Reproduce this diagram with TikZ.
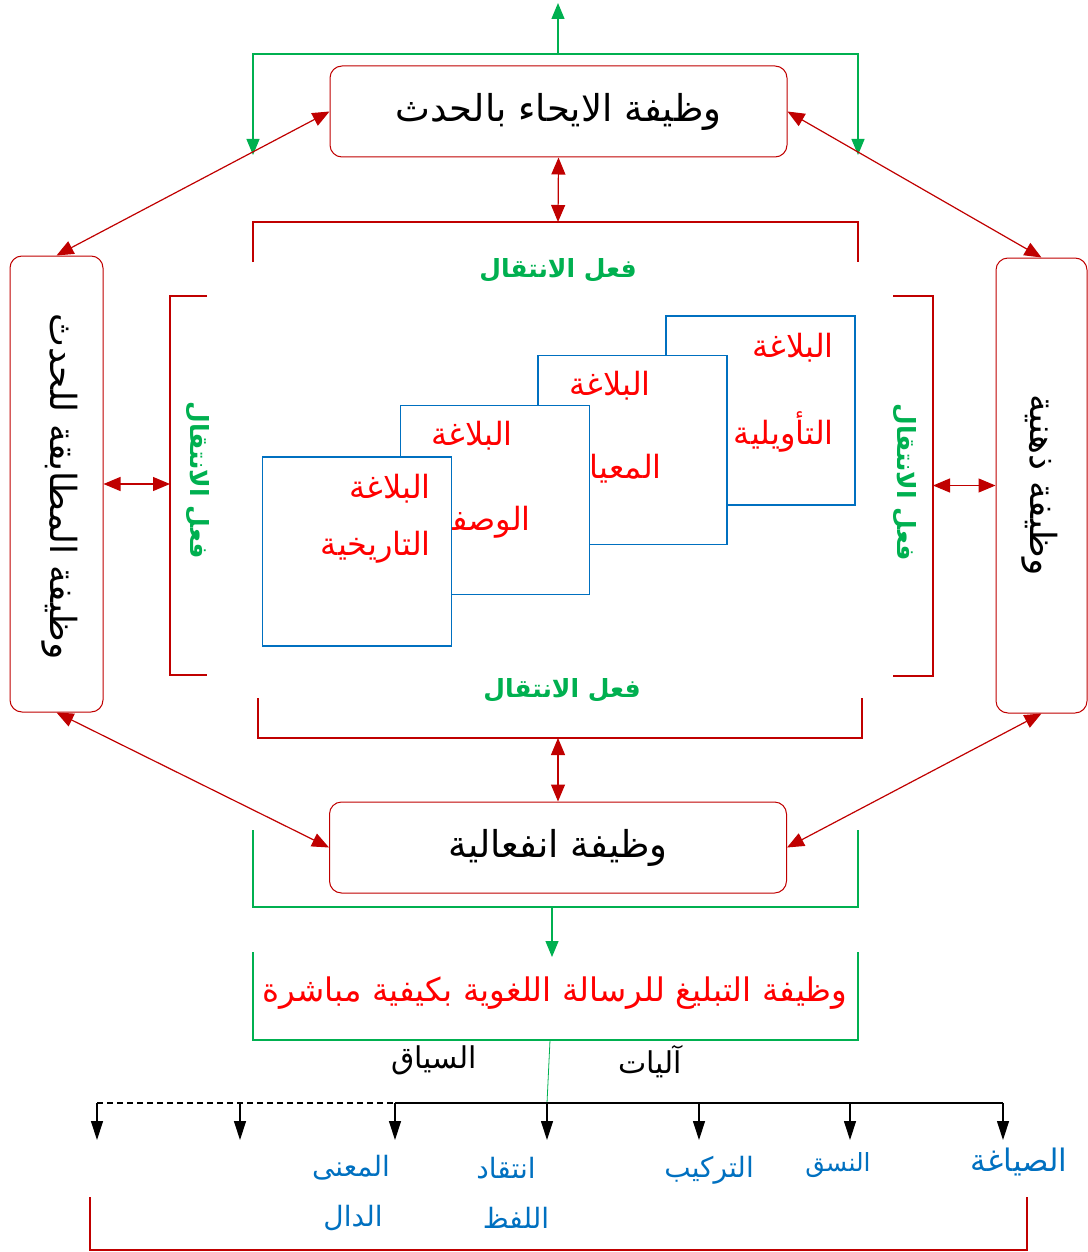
\documentclass[tikz,border=0pt]{standalone}
\usepackage{fontspec}
\usetikzlibrary{arrows.meta,positioning}
\TeXXeTstate=1
\newfontfamily\arabicfont[Script=Arabic]{DejaVu Sans}
\newcommand{\artxt}[1]{{\arabicfont\beginR #1\endR}}
\definecolor{darkred}{RGB}{192,0,0}
\definecolor{grn}{RGB}{0,176,80}
\definecolor{blu}{RGB}{0,112,192}
\tikzset{
 funcbox/.style={draw=darkred,line width=1pt,rounded corners=12pt,fill=white,inner sep=0pt,
   minimum width=457pt,minimum height=91pt,font=\fontsize{37}{40}\selectfont},
 sidebox/.style={draw=darkred,line width=1pt,rounded corners=12pt,fill=white,inner sep=0pt,
   minimum width=93pt,minimum height=456pt},
 sidetxt/.style={rotate=-90,inner sep=0pt,font=\fontsize{36}{40}\selectfont},
 bluesq/.style={draw=blu,line width=1.5pt,fill=white,minimum width=189pt,minimum height=189pt,inner sep=0pt},
 redtxt/.style={text=red,anchor=east,inner sep=0pt,font=\fontsize{32}{36}\selectfont},
 acttxt/.style={text=grn,inner sep=0pt,font=\bfseries\fontsize{25}{28}\selectfont},
 bluetxt/.style={text=blu,inner sep=0pt,font=\fontsize{28}{32}\selectfont},
 blktxt/.style={inner sep=0pt,font=\fontsize{30}{34}\selectfont},
 redline/.style={darkred,line width=1.2pt},
 grnline/.style={grn,line width=1.2pt},
 redarr/.style={darkred,line width=1.2pt,{Triangle[length=17pt,width=14pt]}-{Triangle[length=17pt,width=14pt]}},
 grnarr/.style={grn,line width=1.2pt,-{Triangle[length=16pt,width=13pt]}},
 blkarr/.style={black,line width=1.2pt,-{Triangle[length=19pt,width=12pt]}}
}
\begin{document}
\begin{tikzpicture}[x=1pt,y=-1pt]
\useasboundingbox (0,0) rectangle (1087,1252);
% main boxes
\node[funcbox] (ihaa) at (558.5,111.5) {\artxt{وظيفة الايحاء بالحدث}};
\node[funcbox] (infi) at (558,847.5) {\artxt{وظيفة انفعالية}};
\node[sidebox] (mutab) at (56.5,484) {};
\node[sidetxt] (mutabt) at (60,487) {\artxt{وظيفة المطابقة للحدث}};
\node[sidebox,minimum width=91pt,minimum height=455pt] (dhih) at (1041.5,485.5) {};
\node[sidetxt] (dhiht) at (1040,485) {\artxt{وظيفة ذهنية}};
% green arrows on top
\coordinate (gmid) at (558,54);
\coordinate (gtop) at (558,3);
\coordinate (gleft) at (253,155);
\coordinate (gright) at (858,155);
\draw[grnarr] (gmid) -- (gtop);
\draw[grnarr] (gmid) -| (gleft);
\draw[grnarr] (gmid) -| (gright);
% diagonal arrows
\draw[redarr] (ihaa.west) -- (mutab.north);
\draw[redarr] (ihaa.east) -- (dhih.north);
\draw[redarr] (mutab.south) -- (infi.west);
\draw[redarr] (dhih.south) -- (infi.east);
% brackets round the blue squares
\draw[redline] (253,262) -- (253,222) -- (858,222) -- (858,262);
\draw[redline] (258,698) -- (258,738) -- (862,738) -- (862,698);
\draw[redline] (207,296) -- (170,296) -- (170,675) -- (207,675);
\draw[redline] (893,296) -- (933,296) -- (933,676) -- (893,676);
\coordinate (tbr) at (558,222);
\coordinate (bbr) at (558,738);
\coordinate (lbr) at (170,484);
\coordinate (rbr) at (933,485.5);
\draw[redarr] (ihaa.south) -- (tbr);
\draw[redarr] (bbr) -- (infi.north);
\draw[redarr] (mutab.east |- lbr) -- (lbr);
\draw[redarr] (rbr) -- (dhih.west);
\node[acttxt] (actt) at (558,270) {\artxt{فعل الانتقال}};
\node[acttxt] (actb) at (562,690) {\artxt{فعل الانتقال}};
\node[acttxt,rotate=-90] (actl) at (198,480) {\artxt{فعل الانتقال}};
\node[acttxt,rotate=-90] (actr) at (905,482) {\artxt{فعل الانتقال}};
% blue squares, back to front
\node[bluesq] (sq1) at (760.5,410.5) {};
\node[redtxt] (sq1a) at (834,348) {\artxt{البلاغة}};
\node[redtxt] (sq1b) at (834,432) {\artxt{التأويلية}};
\node[bluesq] (sq2) at (632.5,450) {};
\node[redtxt] (sq2a) at (651,386) {\artxt{البلاغة}};
\node[redtxt] (sq2b) at (662,470) {\artxt{المعيارية}};
\node[bluesq] (sq3) at (495,500) {};
\node[redtxt] (sq3a) at (513,436) {\artxt{البلاغة}};
\node[redtxt] (sq3b) at (531,522) {\artxt{الوصفية}};
\node[bluesq] (sq4) at (357,551.5) {};
\node[redtxt] (sq4a) at (431,489) {\artxt{البلاغة}};
\node[redtxt] (sq4b) at (431,547) {\artxt{التاريخية}};
% lower part
\draw[grnline] (253,830) -- (253,907) -- (858,907) -- (858,830);
\draw[grnline] (253,952) -- (253,1040) -- (858,1040) -- (858,952);
\coordinate (gbot) at (552,907);
\coordinate (gmsg) at (552,957);
\draw[grnarr] (gbot) -- (gmsg);
\node[text=red,inner sep=0pt,font=\fontsize{32.5}{36}\selectfont] (msg) at (555,993)
  {\artxt{وظيفة التبليغ للرسالة اللغوية بكيفية مباشرة}};
\coordinate (gfoot) at (550,1040);
\coordinate (hub) at (547,1103);
\draw[grn,line width=0.8pt] (gfoot) -- (hub);
\node[blktxt] (siyaq) at (434,1060) {\artxt{السياق}};
\node[blktxt] (aliyat) at (650,1062) {\artxt{آليات}};
\draw[black,line width=1.2pt] (395,1103) -- (1003,1103);
\draw[black,line width=1.2pt,dash pattern=on 6pt off 4pt] (97,1103) -- (395,1103);
\foreach \x/\n in {97/a,240/b,395/c,547/d,699/e,850/f,1003/g}{
  \coordinate (top\n) at (\x,1103);
  \coordinate (tip\n) at (\x,1140);
  \draw[blkarr] (top\n) -- (tip\n);
}
\node[bluetxt,font=\fontsize{31}{34}\selectfont] (siyagha) at (1019,1162) {\artxt{الصياغة}};
\node[bluetxt,font=\fontsize{25}{28}\selectfont] (nasaq) at (838,1165) {\artxt{النسق}};
\node[bluetxt] (tarkib) at (709,1170) {\artxt{التركيب}};
\node[bluetxt] (intiqad) at (506,1168) {\artxt{انتقاد}};
\node[bluetxt] (lafz) at (516,1218) {\artxt{اللفظ}};
\node[bluetxt] (maana) at (351,1168) {\artxt{المعنى}};
\node[bluetxt] (dal) at (353,1218) {\artxt{الدال}};
\draw[redline] (90,1197) -- (90,1250) -- (1027,1250) -- (1027,1197);
\end{tikzpicture}
\end{document}
